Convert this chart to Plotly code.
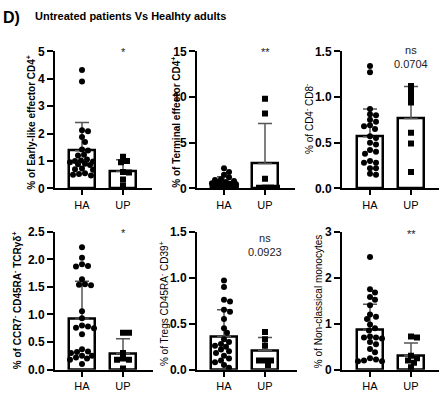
import numpy as np
import plotly.graph_objects as go

groups = ["HA", "UP"]

# Panel 1: Early-like effector CD4+
early_ha = [4.32, 3.9, 2.12, 2.08, 1.87, 1.69, 1.42, 1.38, 1.23, 1.2, 1.05, 1.02, 1.0, 0.98,
            0.95, 0.9, 0.88, 0.85, 0.72, 0.7, 0.68, 0.55, 0.52, 0.5, 0.47]
early_up = [1.15, 1.0, 0.95, 0.6, 0.58, 0.32, 0.1]
early_mean = [1.37, 0.62]
early_sd = [1.03, 0.42]

# Panel 2: Terminal effector CD4+
term_ha = [2.2, 1.8, 1.5, 1.2, 1.0, 0.9, 0.8, 0.7, 0.6, 0.55, 0.5, 0.45, 0.4, 0.38, 0.35,
           0.3, 0.28, 0.25, 0.22, 0.2, 0.18, 0.15, 0.12, 0.1, 0.08]
term_up = [9.8, 8.2, 1.05, 0.1, 0.05, 0.08, 0.05]
term_mean = [0.5, 2.72]
term_sd = [0.77, 4.38]

# Panel 3: CD4- CD8-
dn_ha = [1.34, 1.27, 0.87, 0.81, 0.8, 0.75, 0.73, 0.69, 0.68, 0.65, 0.57, 0.55, 0.5, 0.48,
         0.42, 0.4, 0.38, 0.3, 0.28, 0.28, 0.22, 0.22, 0.16, 0.15]
dn_up = [1.12, 1.06, 1.0, 0.94, 0.61, 0.49, 0.18]
dn_mean = [0.565, 0.765]
dn_sd = [0.305, 0.35]

# Panel 4: CCR7- CD45RA- TCRgd+
gd_ha = [2.22, 2.03, 1.91, 1.88, 1.87, 1.64, 1.55, 1.54, 1.53, 1.06, 0.93, 0.8, 0.78, 0.76,
         0.75, 0.64, 0.37, 0.33, 0.32, 0.3, 0.25, 0.25, 0.22, 0.2, 0.18, 0.1]
gd_up = [0.67, 0.67, 0.3, 0.2, 0.18, 0.18, 0.02]
gd_mean = [0.92, 0.295]
gd_sd = [0.68, 0.265]

# Panel 5: Tregs CD45RA- CD39+
treg_ha = [0.97, 0.9, 0.76, 0.74, 0.65, 0.63, 0.55, 0.45, 0.4, 0.33, 0.3, 0.28, 0.25, 0.22,
           0.2, 0.18, 0.15, 0.1, 0.08, 0.05, 0.02, 0.26, 0.12]
treg_up = [0.41, 0.33, 0.26, 0.1, 0.1, 0.1, 0.05]
treg_mean = [0.36, 0.21]
treg_sd = [0.29, 0.14]

# Panel 6: Non-classical monocytes
ncm_ha = [2.45, 1.75, 1.68, 1.58, 1.52, 1.4, 1.2, 1.15, 1.1, 0.98, 0.9, 0.85, 0.72, 0.7,
          0.7, 0.68, 0.6, 0.55, 0.45, 0.38, 0.25, 0.22, 0.2, 0.18, 0.18]
ncm_up = [0.72, 0.7, 0.3, 0.25, 0.2, 0.15, 0.05]
ncm_mean = [0.86, 0.30]
ncm_sd = [0.56, 0.28]

y_titles = [
    "% of Early-like effector CD4<sup>+</sup>",
    "% of Terminal effector CD4<sup>+</sup>",
    "% of CD4<sup>-</sup> CD8<sup>-</sup>",
    "% of CCR7<sup>-</sup> CD45RA<sup>-</sup> TCRγδ<sup>+</sup>",
    "% of Tregs CD45RA<sup>-</sup> CD39<sup>+</sup>",
    "% of Non-classical monocytes",
]
sig_labels = ["*", "**", "ns<br>0.0704", "*", "ns<br>0.0923", "**"]
y_max = [5, 15, 1.5, 2.5, 1.5, 3]
y_dtick = [1, 5, 0.5, 0.5, 0.5, 1]

panels = [
    (early_ha, early_up, early_mean, early_sd),
    (term_ha, term_up, term_mean, term_sd),
    (dn_ha, dn_up, dn_mean, dn_sd),
    (gd_ha, gd_up, gd_mean, gd_sd),
    (treg_ha, treg_up, treg_mean, treg_sd),
    (ncm_ha, ncm_up, ncm_mean, ncm_sd),
]

W, H = 440, 394
# layout geometry (pixels)
axis_left = [55, 197, 342, 55, 197, 342]
axis_right = [152, 295, 439, 153, 297, 439]
ha_center = [82, 224, 370, 82, 224, 370]
row_top = [46, 46, 46, 233, 233, 233]
row_bot = [188, 188, 188, 376, 376, 376]
title_pos = [(31, 120), (176, 120), (309, 116), (17, 304), (164, 308), (318, 306)]
title_bold = [True, True, False, True, False, False]
sig_pos = [(123, 47), (265, 47), (411, 52), (123, 234), (265, 247), (411, 235)]
UNIT = 41.0  # px between HA and UP


def beeswarm(vals, px_per_unit, dot=5.6, half=12):
    placed = []
    order = np.argsort(-np.asarray(vals))
    res = [0.0] * len(vals)
    cands = [0]
    for k in range(1, half + 1):
        cands += [k, -k]
    for i in order:
        py = vals[i] * px_per_unit
        best = None
        best_ov = None
        for c in cands:
            ov = 0.0
            for (qx, qy) in placed:
                d = np.hypot(c - qx, py - qy)
                if d < dot:
                    ov = max(ov, dot - d)
            if ov == 0.0:
                best = c
                break
            if best_ov is None or ov < best_ov:
                best_ov, best = ov, c
        placed.append((best, py))
        res[i] = best / UNIT
    return res


fig = go.Figure()
layout_axes = {}
annotations = []

for p, (ha, up, mean, sd) in enumerate(panels):
    n = p + 1
    xa = "x" if n == 1 else f"x{n}"
    ya = "y" if n == 1 else f"y{n}"
    ppu = (row_bot[p] - row_top[p]) / y_max[p]

    fig.add_trace(go.Bar(
        x=[0, 1], y=mean, width=0.64, xaxis=xa, yaxis=ya,
        marker=dict(color="white", line=dict(color="black", width=2.5)),
        error_y=dict(type="data", array=sd, arrayminus=[0, 0], symmetric=False,
                     color="#555555", thickness=1.5, width=7),
        showlegend=False, hoverinfo="skip",
    ))
    jx_ha = beeswarm(ha, ppu)
    jx_up = beeswarm(up, ppu)
    fig.add_trace(go.Scatter(
        x=[0 + j for j in jx_ha], y=ha, mode="markers", xaxis=xa, yaxis=ya,
        marker=dict(symbol="circle", size=6, color="black"), showlegend=False,
    ))
    fig.add_trace(go.Scatter(
        x=[1 + j for j in jx_up], y=up, mode="markers", xaxis=xa, yaxis=ya,
        marker=dict(symbol="square", size=6, color="black"), showlegend=False,
    ))

    x0 = -(ha_center[p] - axis_left[p]) / UNIT
    x1 = 1 + (axis_right[p] - ha_center[p] - UNIT) / UNIT
    xkey = "xaxis" if n == 1 else f"xaxis{n}"
    ykey = "yaxis" if n == 1 else f"yaxis{n}"
    layout_axes[xkey] = dict(
        domain=[axis_left[p] / W, axis_right[p] / W], anchor=ya, range=[x0, x1],
        tickvals=[0, 1], ticktext=groups, ticks="outside", ticklen=5, tickwidth=1.5,
        tickcolor="black", showline=True, linecolor="black", linewidth=2,
        showgrid=False, zeroline=False, fixedrange=True,
        tickfont=dict(family="Arial, Liberation Sans", size=11, color="black"),
    )
    layout_axes[ykey] = dict(
        domain=[(H - row_bot[p]) / H, (H - row_top[p]) / H], anchor=xa,
        range=[0, y_max[p]], dtick=y_dtick[p], tick0=0,
        tickformat=".1f" if y_dtick[p] < 1 else "d",
        ticks="outside", ticklen=6, tickwidth=1.5, tickcolor="black",
        showline=True, linecolor="black", linewidth=2, showgrid=False, zeroline=False,
        tickfont=dict(family="Arial, Liberation Sans", size=12, color="black", weight="bold"),
        fixedrange=True,
    )
    tx, ty = title_pos[p]
    annotations.append(dict(
        x=tx / W, y=1 - ty / H, xref="paper", yref="paper", text=y_titles[p],
        textangle=-90, showarrow=False, xanchor="center", yanchor="middle",
        font=dict(family="Arial, Liberation Sans", size=10, color="black",
                  weight="bold" if title_bold[p] else "normal"),
    ))
    sx, sy = sig_pos[p]
    annotations.append(dict(
        x=sx / W, y=1 - sy / H, xref="paper", yref="paper", text=sig_labels[p],
        showarrow=False, xanchor="center", yanchor="middle",
        font=dict(family="Arial, Liberation Sans", size=11, color="#222222"),
    ))

annotations.append(dict(
    x=1 / W, y=1 - 11 / H, xref="paper", yref="paper", text="<b>D)</b>",
    showarrow=False, xanchor="left", yanchor="middle",
    font=dict(family="Arial, Liberation Sans", size=16, color="black"),
))
annotations.append(dict(
    x=33 / W, y=1 - 9 / H, xref="paper", yref="paper",
    text="<b>Untreated patients Vs Healhty adults</b>",
    showarrow=False, xanchor="left", yanchor="middle",
    font=dict(family="Arial, Liberation Sans", size=11, color="black"),
))

fig.update_layout(
    width=W, height=H, margin=dict(l=0, r=0, t=0, b=0),
    paper_bgcolor="white", plot_bgcolor="white",
    annotations=annotations, bargap=0, **layout_axes,
)

fig.write_html("out.html", config={"displayModeBar": False},
               post_script="document.body.style.margin='0px';")
